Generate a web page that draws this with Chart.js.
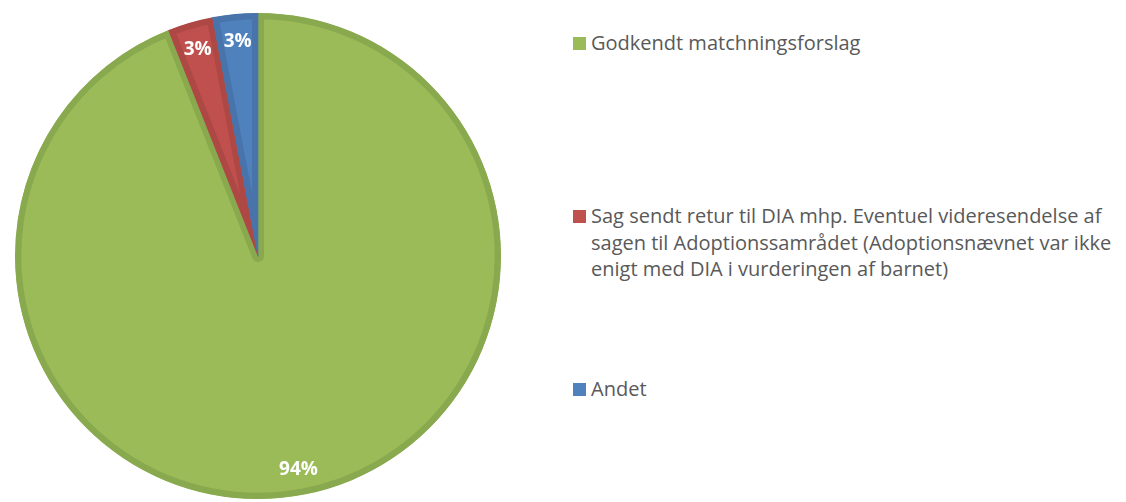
<!DOCTYPE html>
<html>
<head>
<meta charset="utf-8">
<script src="https://cdn.jsdelivr.net/npm/chart.js@4"></script>
<style>
  body { margin: 0; background: #fff; width: 1126px; height: 502px; overflow: hidden; position: relative; }
  #wrap { position: absolute; left: 0; top: 0; width: 516px; height: 502px; }
  .leg { position: absolute; left: 573px; font-family: "Open Sans", sans-serif; font-size: 20px; line-height: 26.5px; color: #595959; white-space: nowrap; }
  .leg i { position: absolute; left: 0; top: 7px; width: 13px; height: 13px; }
  .leg span { display: block; margin-left: 18px; }
</style>
</head>
<body>
<div id="wrap"><canvas id="pieChart"></canvas></div>
<div id="legend"></div>
<script>
const labels = [
  "Godkendt matchningsforslag",
  "Sag sendt retur til DIA mhp. Eventuel videresendelse af<br>sagen til Adoptionssamrådet (Adoptionsnævnet var ikke<br>enigt med DIA i vurderingen af barnet)",
  "Andet",
];
const values = [94, 3, 3];
const fillColors = ["#9bbb59", "#c0504d", "#4f81bd"];
const edgeColors = ["#89a94e", "#ae4845", "#4874ab"];
const legendTops = [30, 203, 376];

// labels on the slices
const pctLabels = {
  id: "pctLabels",
  afterDatasetsDraw(chart) {
    const c = chart.ctx;
    const arcs = chart.getDatasetMeta(0).data;
    c.save();
    c.font = "bold 19px 'Open Sans', sans-serif";
    c.fillStyle = "#ffffff";
    c.textAlign = "center";
    c.textBaseline = "middle";
    arcs.forEach((a, i) => {
      const p = a.getProps(["x", "y", "startAngle", "endAngle", "outerRadius"], true);
      const mid = (p.startAngle + p.endAngle) / 2;
      const r = p.outerRadius * 0.89;
      c.fillText(values[i] + "%", p.x + Math.cos(mid) * r, p.y + Math.sin(mid) * r + 1);
    });
    c.restore();
  },
};

const ctx = document.getElementById("pieChart").getContext("2d");
const myChart = new Chart(ctx, {
  type: "pie",
  data: {
    labels: labels,
    datasets: [
      {
        data: values,
        backgroundColor: fillColors,
        borderColor: edgeColors,
        borderWidth: 6,
        borderAlign: "inner",
      },
    ],
  },
  options: {
    responsive: true,
    maintainAspectRatio: false,
    animation: false,
    layout: { padding: { left: 14, right: 14, top: 13, bottom: 3 } },
    plugins: {
      legend: { display: false },
      tooltip: { enabled: false },
    },
  },
  plugins: [pctLabels],
});

// legend on the right
const legendBox = document.getElementById("legend");
labels.forEach((txt, i) => {
  const d = document.createElement("div");
  d.className = "leg";
  d.style.top = legendTops[i] + "px";
  d.innerHTML = '<i style="background:' + fillColors[i] + '"></i><span>' + txt + "</span>";
  legendBox.appendChild(d);
});
</script>
</body>
</html>
